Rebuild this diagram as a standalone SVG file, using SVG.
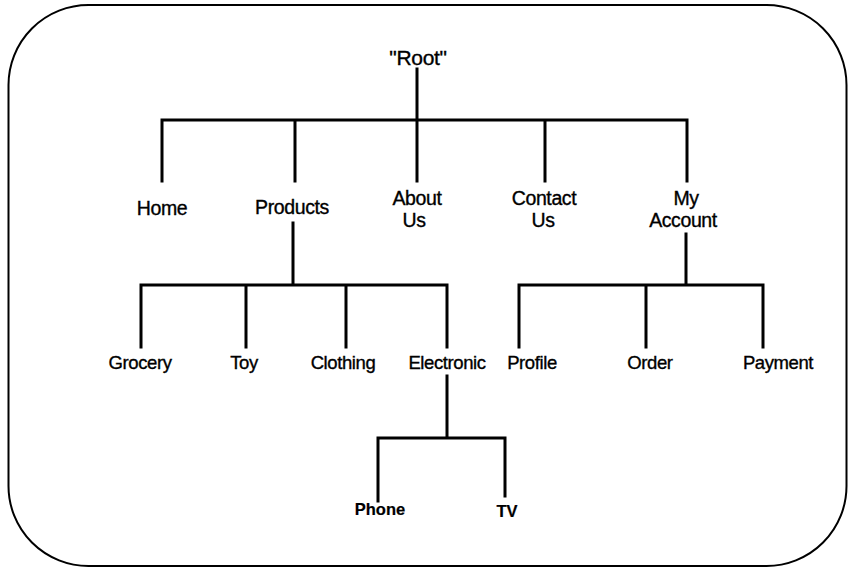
<svg xmlns="http://www.w3.org/2000/svg" width="853" height="572" viewBox="0 0 853 572">
<style>
.frame{fill:#fff;stroke:#000;stroke-width:2}
.ln{stroke:#000;stroke-width:3;fill:none;stroke-linecap:square}
text{font-family:"Liberation Sans",Arial,sans-serif;fill:#000;stroke:#000;stroke-width:0.35;text-anchor:middle;dominant-baseline:central}
.l0{font-size:21px;letter-spacing:-0.3px}
.l1{font-size:19.5px;letter-spacing:-0.4px}
.l2{font-size:18.5px;letter-spacing:-0.4px}
.l3{font-size:16.5px;font-weight:bold;stroke-width:0.2}
</style>
<rect class="frame" x="8.5" y="5" width="838" height="561" rx="80" ry="80"/>
<g id="connectors">
<path class="ln" d="M417 69V120M162 120H687M162 120V181M295 120V181M417 120V181M545 120V181M687 120V181"/>
<path class="ln" d="M293 223V285M141 285H447M141 285V347M246 285V347M346 285V347M447 285V347"/>
<path class="ln" d="M686 234V285M519 285H763M519 285V347M646 285V347M763 285V347"/>
<path class="ln" d="M447 376V438M378 438H505M378 438V501M505 438V496"/>
</g>
<g id="root"><text class="l0" x="418" y="57">"Root"</text></g>
<g id="home"><text class="l1" x="162" y="208">Home</text></g>
<g id="products"><text class="l1" x="292" y="207">Products</text></g>
<g id="about"><text class="l1" x="417" y="198">About</text><text class="l1" x="414" y="220">Us</text></g>
<g id="contact"><text class="l1" x="544" y="198">Contact</text><text class="l1" x="543" y="220">Us</text></g>
<g id="account"><text class="l1" x="686" y="198">My</text><text class="l1" x="683" y="220">Account</text></g>
<g id="grocery"><text class="l2" x="140" y="362">Grocery</text></g>
<g id="toy"><text class="l2" x="244" y="362">Toy</text></g>
<g id="clothing"><text class="l2" x="343" y="362">Clothing</text></g>
<g id="electronic"><text class="l2" x="447" y="362">Electronic</text></g>
<g id="profile"><text class="l2" x="532" y="362">Profile</text></g>
<g id="order"><text class="l2" x="650" y="362">Order</text></g>
<g id="payment"><text class="l2" x="778" y="362">Payment</text></g>
<g id="phone"><text class="l3" x="380" y="509">Phone</text></g>
<g id="tv"><text class="l3" x="507" y="511">TV</text></g>
</svg>
